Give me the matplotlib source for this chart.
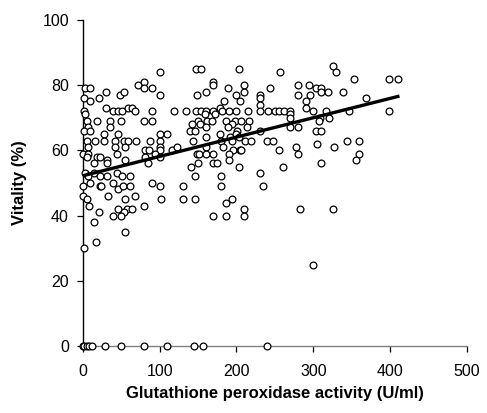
import matplotlib
matplotlib.use("Agg")
import matplotlib.pyplot as plt
import numpy as np

plt.rcParams['font.family'] = ['Liberation Sans', 'DejaVu Sans']

# Glutathione peroxidase activity (U/ml) and vitality (%)
gpx = [
    # top rows
    100, 147, 154, 203, 80, 72, 80, 90, 3, 10, 100, 48, 54, 30, 169, 169, 160, 189,
    210, 210, 243, 149, 200, 230, 230, 1, 10, 21, 205, 184,
    # ~72
    30, 39, 46, 51, 59, 64, 68, 90, 119, 134, 147, 154, 160, 169, 179, 181, 190, 200,
    215, 230, 230, 241, 250, 1, 159, 172, 3,
    # ~69
    5, 19, 35, 50, 80, 90, 150, 161, 168, 187, 198, 206, 216, 142, 153, 194, 7,
    # ~66
    2, 10, 28, 35, 46, 100, 110, 140, 146, 160, 178, 189, 201, 214, 230, 200,
    160, 191, 203,
    # ~62
    5, 16, 27, 42, 54, 59, 69, 87, 100, 144, 180, 194, 211, 219, 240, 248,
    7, 42, 55, 100, 160, 182, 196, 205, 100,
    # ~59
    0, 7, 19, 44, 81, 86, 94, 100, 116, 122, 148, 151, 160, 170, 190, 206,
    6, 22, 32, 55, 81, 85, 14, 32, 169, 174, 190, 141, 150, 203,
    # ~52
    3, 14, 22, 32, 44, 51, 61, 146, 180, 231, 7,
    # ~49
    0, 10, 22, 24, 39, 46, 52, 61, 90, 100, 130, 180, 234,
    # ~45
    0, 5, 33, 55, 68, 102, 130, 146, 194, 187,
    # ~42
    8, 46, 57, 64, 79, 21, 54, 210, 210, 39, 50, 169, 187,
    14, 55, 17, 1,
    # right part
    325, 329, 257, 280, 295, 303, 310, 310, 319, 339, 280, 296, 290, 290,
    255, 262, 270, 269, 270, 300, 317, 309, 320, 307, 347, 269, 280, 304, 310,
    353, 399, 410, 368, 399, 344, 360, 360, 355,
    260, 277, 280, 305, 327, 310, 282, 325, 300, 255,
    # zero vitality
    0, 2, 5, 8, 12, 29, 50, 80, 110, 145, 156, 240,
]
vitality = [
    84, 85, 85, 85, 81, 80, 79, 79, 79, 79, 77, 77, 78, 78, 81, 80, 78, 79,
    80, 78, 79, 77, 77, 77, 76, 76, 75, 76, 75, 75,
    73, 72, 72, 72, 73, 73, 72, 72, 72, 72, 72, 72, 72, 72, 73, 72, 72, 72,
    72, 74, 72, 72, 72, 72, 71, 71, 71,
    69, 69, 69, 69, 69, 69, 69, 69, 69, 69, 69, 69, 69, 68, 68, 68, 67,
    66, 66, 65, 67, 65, 65, 65, 66, 66, 67, 65, 67, 66, 67, 66, 65,
    64, 64, 64,
    63, 63, 63, 63, 63, 63, 63, 63, 63, 63, 63, 63, 63, 63, 63, 63,
    61, 61, 61, 61, 61, 61, 60, 60, 60,
    59, 59, 58, 59, 60, 60, 59, 58, 60, 61, 59, 59, 59, 59, 59, 60,
    58, 58, 57, 57, 58, 56, 56, 56, 56, 56, 57, 55, 56, 55,
    53, 53, 52, 52, 53, 52, 52, 52, 52, 53, 52,
    49, 50, 49, 49, 50, 48, 49, 49, 50, 49, 49, 49, 49,
    46, 45, 46, 45, 46, 45, 45, 45, 45, 44,
    43, 42, 42, 42, 43, 41, 41, 42, 40, 40, 40, 40, 40,
    38, 35, 32, 30,
    86, 84, 84, 80, 80, 79, 79, 78, 78, 78, 77, 77, 75, 73,
    72, 72, 72, 71, 70, 72, 72, 70, 70, 69, 72, 67, 67, 66, 66,
    82, 82, 82, 76, 72, 63, 63, 59, 57,
    55, 61, 59, 62, 61, 56, 42, 42, 25, 60,
    0, 0, 0, 0, 0, 0, 0, 0, 0, 0, 0, 0,
]

# regression line as drawn on the chart
trend_intercept = 52.2
trend_slope = 0.0593

x_ticks = [0, 100, 200, 300, 400, 500]
y_ticks = [0, 20, 40, 60, 80, 100]

fig = plt.figure(figsize=(4.87, 4.13), dpi=100)
ax = fig.add_axes([0.170, 0.162, 0.789, 0.79])

ax.scatter(gpx, vitality, s=24, facecolors='white', edgecolors='black',
           linewidths=0.9, zorder=3, clip_on=False)

xs = np.linspace(min(gpx), max(gpx), 50)
ax.plot(xs, trend_intercept + trend_slope * xs, color='black', lw=2.4, zorder=4)

ax.set_xlim(0, 500)
ax.set_ylim(0, 100)
ax.set_xticks(x_ticks)
ax.set_yticks(y_ticks)

for side in ['top', 'right']:
    ax.spines[side].set_visible(False)
ax.spines['left'].set_color('black')
ax.spines['bottom'].set_color('#808080')
ax.spines['left'].set_linewidth(1.0)
ax.spines['bottom'].set_linewidth(1.0)

ax.tick_params(axis='both', direction='out', length=4, width=0.9,
               labelsize=11.5, colors='black')
ax.tick_params(axis='x', pad=9)
ax.tick_params(axis='y', pad=6)

ax.set_xlabel('Glutathione peroxidase activity (U/ml)', fontsize=12,
              fontweight='bold', labelpad=5)
ax.set_ylabel('Vitality (%)', fontsize=12, fontweight='bold', labelpad=11)

plt.savefig('out.png', dpi=100)
